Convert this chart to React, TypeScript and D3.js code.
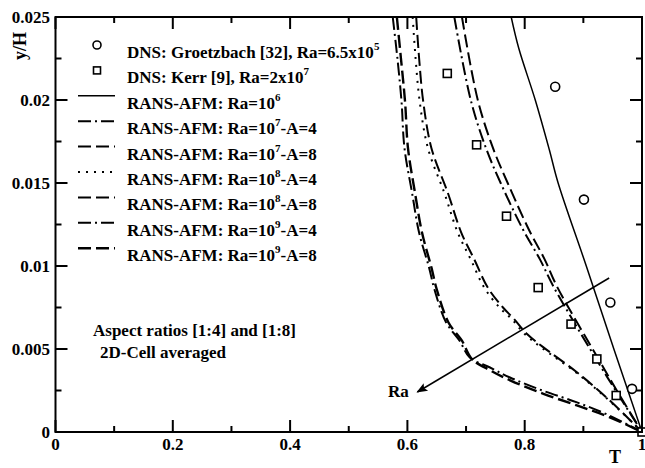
import { useEffect, useRef } from 'react';
import * as d3 from 'd3';

// DNS data
const groetzT = [0.852, 0.901, 0.946, 0.983];
const groetzY = [0.0208, 0.014, 0.0078, 0.0026];
const kerrT = [0.668, 0.718, 0.769, 0.823, 0.879, 0.923, 0.956, 1.0];
const kerrY = [0.0216, 0.0173, 0.013, 0.0087, 0.0065, 0.0044, 0.0022, 0.0];

// RANS-AFM curves (T vs y/H)
const ra6T = [0.777, 0.79, 0.818, 0.842, 0.857, 0.905, 0.952, 1.0];
const ra6Y = [0.025, 0.0231, 0.02, 0.017, 0.015, 0.01, 0.005, 0];

const ra7a4T = [0.68, 0.708, 0.734, 0.759, 0.797, 0.826, 0.85, 0.92, 0.955, 1.0];
const ra7a8T = [0.693, 0.72, 0.746, 0.771, 0.807, 0.834, 0.856, 0.924, 0.957, 1.0];
const ra7Y = [0.025, 0.02, 0.0171, 0.015, 0.0122, 0.0104, 0.0087, 0.0045, 0.0025, 0];

const ra8a4T = [0.609, 0.614, 0.621, 0.635, 0.663, 0.686, 0.708, 0.731, 0.757, 0.778, 0.8, 0.828, 0.887, 0.944, 1.0];
const ra8a8T = [0.615, 0.62, 0.627, 0.641, 0.669, 0.692, 0.714, 0.737, 0.763, 0.782, 0.804, 0.832, 0.889, 0.945, 1.0];
const ra8Y = [0.025, 0.0225, 0.0199, 0.0171, 0.0144, 0.012, 0.0104, 0.0087, 0.0075, 0.0068, 0.0059, 0.0051, 0.0036, 0.0019, 0];

const ra9a4T = [0.575, 0.583, 0.59, 0.595, 0.608, 0.62, 0.637, 0.646, 0.666, 0.689, 0.706, 0.74, 0.774, 0.83, 0.888, 0.944, 1.0];
const ra9a4Y = [0.025, 0.0225, 0.0199, 0.0171, 0.0144, 0.012, 0.0099, 0.0086, 0.0066, 0.0055, 0.0045, 0.0039, 0.0033, 0.0025, 0.0018, 0.001, 0];
const ra9a8T = [0.582, 0.589, 0.596, 0.601, 0.613, 0.625, 0.641, 0.65, 0.67, 0.693, 0.71, 0.742, 0.776, 0.832, 0.889, 0.944, 1.0];
const ra9a8Y = [0.025, 0.0225, 0.0199, 0.0171, 0.0144, 0.012, 0.0099, 0.0086, 0.0066, 0.0055, 0.0044, 0.0037, 0.0031, 0.0023, 0.0016, 0.0009, 0];

// Ra arrow
const arrowT = [0.944, 0.617];
const arrowY = [0.00928, 0.00241];

const xTicks = [0, 0.2, 0.4, 0.6, 0.8, 1];
const yTicks = [0, 0.005, 0.01, 0.015, 0.02, 0.025];

const DASHDOT = '13,4,2,4';
const DASH = '13,5';
const DOT = '2,6';

const series = [
  { t: ra6T, y: ra6Y, dash: null, w: 1.5, label: ['RANS-AFM: Ra=10', '6', ''] },
  { t: ra7a4T, y: ra7Y, dash: DASHDOT, w: 2, label: ['RANS-AFM: Ra=10', '7', '-A=4'] },
  { t: ra7a8T, y: ra7Y, dash: DASH, w: 2, label: ['RANS-AFM: Ra=10', '7', '-A=8'] },
  { t: ra8a4T, y: ra8Y, dash: DOT, w: 2, label: ['RANS-AFM: Ra=10', '8', '-A=4'] },
  { t: ra8a8T, y: ra8Y, dash: DASH, w: 2, label: ['RANS-AFM: Ra=10', '8', '-A=8'] },
  { t: ra9a4T, y: ra9a4Y, dash: DASHDOT, w: 2, label: ['RANS-AFM: Ra=10', '9', '-A=4'] },
  { t: ra9a8T, y: ra9a8Y, dash: DASH, w: 2.4, label: ['RANS-AFM: Ra=10', '9', '-A=8'] },
];

const FONT = '"Liberation Serif", "Times New Roman", serif';

const Chart = () => {
  const svgRef = useRef(null);

  useEffect(() => {
    const svg = d3.select(svgRef.current);
    svg.selectAll('*').remove();

    const left = 55.5, right = 642, top = 17, bottom = 432;
    const x = d3.scaleLinear().domain([0, 1]).range([left, right]);
    const y = d3.scaleLinear().domain([0, 0.025]).range([bottom, top]);

    svg.append('rect').attr('width', 645).attr('height', 468).attr('fill', '#fff');

    const defs = svg.append('defs');
    defs.append('clipPath').attr('id', 'plotclip')
      .append('rect').attr('x', left).attr('y', top).attr('width', right - left).attr('height', bottom - top);
    defs.append('marker')
      .attr('id', 'arrowhead')
      .attr('viewBox', '0 0 10 10')
      .attr('refX', 9).attr('refY', 5)
      .attr('markerWidth', 11).attr('markerHeight', 11)
      .attr('markerUnits', 'userSpaceOnUse')
      .attr('orient', 'auto')
      .append('path').attr('d', 'M0,1 L10,5 L0,9 L2,5 Z').attr('fill', '#000');

    // ticks (inward on all four sides)
    const tk = svg.append('g').attr('stroke', '#000').attr('stroke-width', 2);
    d3.range(0, 1.0001, 0.1).forEach((v, i) => {
      const len = i % 2 === 0 ? 12 : 6;
      tk.append('line').attr('x1', x(v)).attr('x2', x(v)).attr('y1', bottom).attr('y2', bottom - len);
      tk.append('line').attr('x1', x(v)).attr('x2', x(v)).attr('y1', top).attr('y2', top + len);
    });
    d3.range(0, 0.02501, 0.0025).forEach((v, i) => {
      const len = i % 2 === 0 ? 12 : 6;
      tk.append('line').attr('y1', y(v)).attr('y2', y(v)).attr('x1', left).attr('x2', left + len);
      tk.append('line').attr('y1', y(v)).attr('y2', y(v)).attr('x1', right).attr('x2', right - len);
    });

    // tick labels
    svg.append('g').selectAll('text').data(xTicks).enter().append('text')
      .attr('x', d => x(d)).attr('y', 450)
      .attr('text-anchor', 'middle')
      .style('font-family', FONT).style('font-weight', 'bold').style('font-size', '17px')
      .text(d => d === 0 || d === 1 ? String(d) : d3.format('.1f')(d));
    svg.append('g').selectAll('text').data(yTicks).enter().append('text')
      .attr('x', 50).attr('y', d => y(d) + 6)
      .attr('text-anchor', 'end')
      .style('font-family', FONT).style('font-weight', 'bold').style('font-size', '17px')
      .text(d => d === 0 ? '0' : String(+d.toFixed(3)));

    // axis titles
    svg.append('text')
      .attr('transform', 'translate(26,46) rotate(-90)')
      .attr('text-anchor', 'middle')
      .style('font-family', FONT).style('font-weight', 'bold').style('font-size', '18px')
      .text('y/H');
    svg.append('text')
      .attr('x', 615).attr('y', 463).attr('text-anchor', 'middle')
      .style('font-family', FONT).style('font-weight', 'bold').style('font-size', '18px')
      .text('T');

    // curves
    const line = d3.line()
      .x(d => x(d[0])).y(d => y(d[1]))
      .curve(d3.curveCatmullRom.alpha(0.5));
    const plot = svg.append('g').attr('clip-path', 'url(#plotclip)');
    series.forEach(s => {
      plot.append('path')
        .attr('d', line(s.t.map((t, i) => [t, s.y[i]])))
        .attr('fill', 'none').attr('stroke', '#000')
        .attr('stroke-width', s.w)
        .attr('stroke-dasharray', s.dash);
    });

    // Ra arrow
    plot.append('line')
      .attr('x1', x(arrowT[0])).attr('y1', y(arrowY[0]))
      .attr('x2', x(arrowT[1])).attr('y2', y(arrowY[1]))
      .attr('stroke', '#000').attr('stroke-width', 1.6)
      .attr('marker-end', 'url(#arrowhead)');
    svg.append('text')
      .attr('x', 388).attr('y', 397)
      .style('font-family', FONT).style('font-weight', 'bold').style('font-size', '17px')
      .text('Ra');

    // DNS markers
    plot.selectAll('.circ').data(groetzT).enter().append('circle')
      .attr('cx', d => x(d)).attr('cy', (d, i) => y(groetzY[i])).attr('r', 4.5)
      .attr('fill', '#fff').attr('stroke', '#000').attr('stroke-width', 1.6);
    svg.selectAll('.sq').data(kerrT).enter().append('rect')
      .attr('x', d => x(d) - 4).attr('y', (d, i) => y(kerrY[i]) - 4)
      .attr('width', 8).attr('height', 8)
      .attr('fill', '#fff').attr('stroke', '#000').attr('stroke-width', 1.6);

    // frame
    svg.append('rect')
      .attr('x', left).attr('y', top).attr('width', right - left).attr('height', bottom - top)
      .attr('fill', 'none').attr('stroke', '#000').attr('stroke-width', 2);

    // legend
    const lg = svg.append('g');
    const rowY = (i) => 45 + i * 25.4;
    const addLabel = (i, parts) => {
      const t = lg.append('text')
        .attr('x', 127).attr('y', rowY(i) + 13)
        .style('font-family', FONT).style('font-weight', 'bold').style('font-size', '17px');
      t.append('tspan').text(parts[0]);
      t.append('tspan').attr('dy', -8).style('font-size', '11px').text(parts[1]);
      if (parts[2]) t.append('tspan').attr('dy', 8).text(parts[2]);
    };
    lg.append('circle').attr('cx', 97).attr('cy', rowY(0)).attr('r', 4)
      .attr('fill', '#fff').attr('stroke', '#000').attr('stroke-width', 1.6);
    addLabel(0, ['DNS: Groetzbach [32], Ra=6.5x10', '5', '']);
    lg.append('rect').attr('x', 93.5).attr('y', rowY(1) - 3.5).attr('width', 7).attr('height', 7)
      .attr('fill', '#fff').attr('stroke', '#000').attr('stroke-width', 1.6);
    addLabel(1, ['DNS: Kerr [9], Ra=2x10', '7', '']);
    series.forEach((s, i) => {
      lg.append('line')
        .attr('x1', 78).attr('x2', 115).attr('y1', rowY(i + 2)).attr('y2', rowY(i + 2))
        .attr('stroke', '#000').attr('stroke-width', s.w)
        .attr('stroke-dasharray', s.dash);
      addLabel(i + 2, s.label);
    });

    // annotations
    svg.append('text').attr('x', 93).attr('y', 336)
      .style('font-family', FONT).style('font-weight', 'bold').style('font-size', '17px')
      .text('Aspect ratios [1:4] and [1:8]');
    svg.append('text').attr('x', 100).attr('y', 358)
      .style('font-family', FONT).style('font-weight', 'bold').style('font-size', '17px')
      .text('2D-Cell averaged');
  }, []);

  return <svg ref={svgRef} width={645} height={468} style={{ position: 'absolute', left: 0, top: 0 }} />;
};

export default function App() {
  return <Chart />;
}
